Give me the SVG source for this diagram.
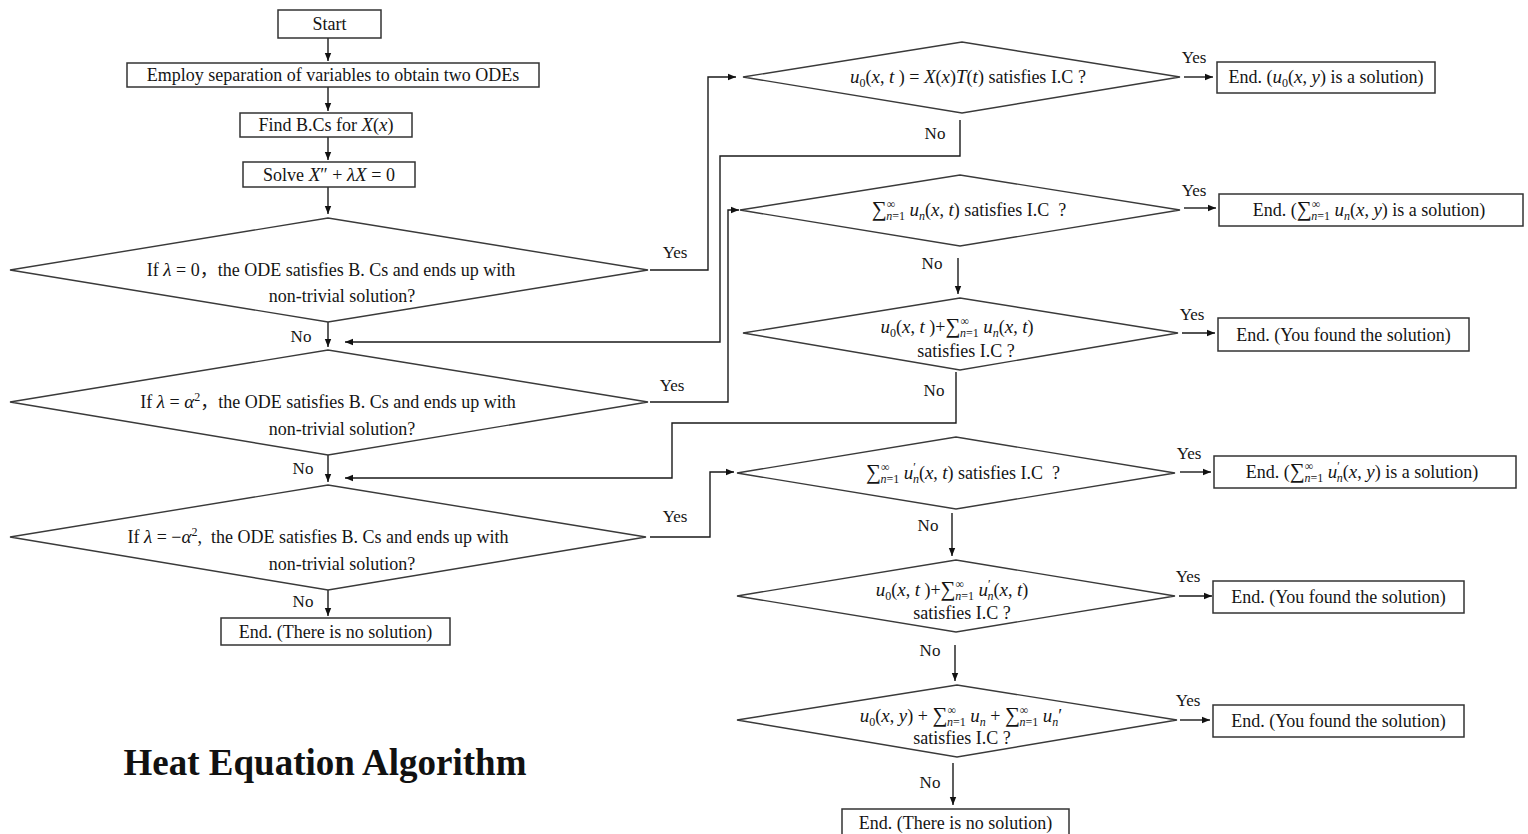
<svg xmlns="http://www.w3.org/2000/svg" width="1528" height="834" viewBox="0 0 1528 834">
<style>
.t{font-family:"Liberation Serif","Times New Roman","Noto Sans CJK SC",serif;font-size:18px;fill:#151515}
.i{font-style:italic;font-size:19px}
.s,.s .i,.s.i{font-size:12px}
.sm{font-size:21px}
.lbl{font-family:"Liberation Serif","Times New Roman",serif;font-size:17px;fill:#151515}
.box{fill:#fff;stroke:#333;stroke-width:1.5}
.dia{fill:#fff;stroke:#3a3a3a;stroke-width:1.4}
.con{fill:none;stroke:#1a1a1a;stroke-width:1.4;marker-end:url(#ah)}
.title{font-family:"Liberation Serif","Times New Roman",serif;font-size:37px;font-weight:bold;fill:#111}
</style>
<defs>
<marker id="ah" viewBox="0 0 10 10" refX="10" refY="5" markerWidth="9" markerHeight="8" markerUnits="userSpaceOnUse" orient="auto">
<path d="M0,1 L10,5 L0,9 z" fill="#111"/>
</marker>
</defs>
<rect width="1528" height="834" fill="#fff"/>

<g id="connectors">
<path class="con" d="M328,38 V61"/>
<path class="con" d="M328,87 V111"/>
<path class="con" d="M328,137 V160"/>
<path class="con" d="M328,187 V214"/>
<path class="con" d="M328,322 V347"/>
<path class="con" d="M328,455 V482"/>
<path class="con" d="M328,590 V616"/>
<path class="con" d="M650,270 H708 V77 H736"/>
<path class="con" d="M1184,77 H1213"/>
<path class="con" d="M960,120 V156 H720 V342 H345"/>
<path class="con" d="M650,402 H728 V210 H739"/>
<path class="con" d="M1184,208 H1216"/>
<path class="con" d="M958,258 V294"/>
<path class="con" d="M1182,333 H1215"/>
<path class="con" d="M956,372 V423 H672 V478 H345"/>
<path class="con" d="M650,537 H710 V472 H734"/>
<path class="con" d="M1180,472 H1211"/>
<path class="con" d="M952,513 V556"/>
<path class="con" d="M1179,596 H1212"/>
<path class="con" d="M955,645 V681"/>
<path class="con" d="M1180,720 H1210"/>
<path class="con" d="M953,763 V805"/>
<text class="lbl" x="675" y="258" text-anchor="middle">Yes</text>
<text class="lbl" x="672" y="391" text-anchor="middle">Yes</text>
<text class="lbl" x="675" y="522" text-anchor="middle">Yes</text>
<text class="lbl" x="301" y="342" text-anchor="middle">No</text>
<text class="lbl" x="303" y="474" text-anchor="middle">No</text>
<text class="lbl" x="303" y="607" text-anchor="middle">No</text>
<text class="lbl" x="1194" y="63" text-anchor="middle">Yes</text>
<text class="lbl" x="1194" y="196" text-anchor="middle">Yes</text>
<text class="lbl" x="1192" y="320" text-anchor="middle">Yes</text>
<text class="lbl" x="1189" y="459" text-anchor="middle">Yes</text>
<text class="lbl" x="1188" y="582" text-anchor="middle">Yes</text>
<text class="lbl" x="1188" y="706" text-anchor="middle">Yes</text>
<text class="lbl" x="935" y="139" text-anchor="middle">No</text>
<text class="lbl" x="932" y="269" text-anchor="middle">No</text>
<text class="lbl" x="934" y="396" text-anchor="middle">No</text>
<text class="lbl" x="928" y="531" text-anchor="middle">No</text>
<text class="lbl" x="930" y="656" text-anchor="middle">No</text>
<text class="lbl" x="930" y="788" text-anchor="middle">No</text>
</g>

<g id="start">
<rect class="box" x="278" y="10" width="103" height="28"/>
<text class="t" x="329.5" y="30" text-anchor="middle">Start</text>
</g>
<g id="separate">
<rect class="box" x="127" y="63" width="412" height="24"/>
<text class="t" x="333" y="81" text-anchor="middle">Employ separation of variables to obtain two ODEs</text>
</g>
<g id="findbc">
<rect class="box" x="240" y="113" width="172" height="24"/>
<text class="t" x="326" y="131" text-anchor="middle">Find B.Cs for <tspan class="i">X</tspan>(<tspan class="i">x</tspan>)</text>
</g>
<g id="solve">
<rect class="box" x="243" y="162" width="172" height="25"/>
<text class="t" x="329" y="181" text-anchor="middle">Solve <tspan class="i">X</tspan>″ + <tspan class="i">λX</tspan> = 0</text>
</g>

<g id="case-zero">
<polygon class="dia" points="10,270 328,218 648,270 328,322"/>
<text class="t" x="331" y="276" text-anchor="middle">If <tspan class="i">λ</tspan> = 0，the ODE satisfies B. Cs and ends up with</text>
<text class="t" x="342" y="302" text-anchor="middle">non-trivial solution?</text>
</g>
<g id="case-positive">
<polygon class="dia" points="10,402 328,350 648,402 328,455"/>
<text class="t" x="328" y="408" text-anchor="middle">If <tspan class="i">λ</tspan> = <tspan class="i">α</tspan><tspan class="s" dy="-7">2</tspan><tspan dy="7">，the ODE satisfies B. Cs and ends up with</tspan></text>
<text class="t" x="342" y="435" text-anchor="middle">non-trivial solution?</text>
</g>
<g id="case-negative">
<polygon class="dia" points="10,537 328,485 646,537 328,590"/>
<text class="t" x="318" y="543" text-anchor="middle">If <tspan class="i">λ</tspan> = −<tspan class="i">α</tspan><tspan class="s" dy="-7">2</tspan><tspan dy="7">,&#160; the ODE satisfies B. Cs and ends up with</tspan></text>
<text class="t" x="342" y="570" text-anchor="middle">non-trivial solution?</text>
</g>
<g id="end-left">
<rect class="box" x="221" y="618" width="229" height="27"/>
<text class="t" x="335.5" y="638" text-anchor="middle">End. (There is no solution)</text>
</g>

<g id="check-u0">
<polygon class="dia" points="743,77 962,42 1180,77 962,113"/>
<text class="t" x="968" y="83" text-anchor="middle"><tspan class="i">u</tspan><tspan class="s" dy="4">0</tspan><tspan dy="-4">(</tspan><tspan class="i">x</tspan>, <tspan class="i">t</tspan> ) = <tspan class="i">X</tspan>(<tspan class="i">x</tspan>)<tspan class="i">T</tspan>(<tspan class="i">t</tspan>) satisfies I.C ?</text>
</g>
<g id="end-u0">
<rect class="box" x="1217" y="62" width="218" height="31"/>
<text class="t" x="1326" y="83" text-anchor="middle">End. (<tspan class="i">u</tspan><tspan class="s" dy="4">0</tspan><tspan dy="-4">(</tspan><tspan class="i">x</tspan>, <tspan class="i">y</tspan>) is a solution)</text>
</g>

<g id="check-un">
<polygon class="dia" points="740,210 960,175 1180,210 960,246"/>
<text class="t" x="969" y="216" text-anchor="middle"><tspan class="sm">∑</tspan><tspan class="s" dy="-8">∞</tspan><tspan class="s" dx="-9" dy="12"><tspan class="i">n</tspan>=1</tspan><tspan dy="-4"> </tspan><tspan class="i">u</tspan><tspan class="s i" dy="4">n</tspan><tspan dy="-4">(</tspan><tspan class="i">x</tspan>, <tspan class="i">t</tspan>) satisfies I.C&#160; ?</text>
</g>
<g id="end-un">
<rect class="box" x="1219" y="194" width="304" height="32"/>
<text class="t" x="1369" y="216" text-anchor="middle">End. (<tspan class="sm">∑</tspan><tspan class="s" dy="-8">∞</tspan><tspan class="s" dx="-9" dy="12"><tspan class="i">n</tspan>=1</tspan><tspan dy="-4"> </tspan><tspan class="i">u</tspan><tspan class="s i" dy="4">n</tspan><tspan dy="-4">(</tspan><tspan class="i">x</tspan>, <tspan class="i">y</tspan>) is a solution)</text>
</g>

<g id="check-u0-un">
<polygon class="dia" points="743,333 960,298 1178,333 960,370"/>
<text class="t" x="957" y="333" text-anchor="middle"><tspan class="i">u</tspan><tspan class="s" dy="4">0</tspan><tspan dy="-4">(</tspan><tspan class="i">x</tspan>, <tspan class="i">t</tspan> )+<tspan class="sm">∑</tspan><tspan class="s" dy="-8">∞</tspan><tspan class="s" dx="-9" dy="12"><tspan class="i">n</tspan>=1</tspan><tspan dy="-4"> </tspan><tspan class="i">u</tspan><tspan class="s i" dy="4">n</tspan><tspan dy="-4">(</tspan><tspan class="i">x</tspan>, <tspan class="i">t</tspan>)</text>
<text class="t" x="966" y="357" text-anchor="middle">satisfies I.C ?</text>
</g>
<g id="end-found-1">
<rect class="box" x="1218" y="318" width="251" height="33"/>
<text class="t" x="1343.5" y="341" text-anchor="middle">End. (You found the solution)</text>
</g>

<g id="check-unp">
<polygon class="dia" points="737,473 956,437 1175,473 956,509"/>
<text class="t" x="963" y="479" text-anchor="middle"><tspan class="sm">∑</tspan><tspan class="s" dy="-8">∞</tspan><tspan class="s" dx="-9" dy="12"><tspan class="i">n</tspan>=1</tspan><tspan dy="-4"> </tspan><tspan class="i">u</tspan><tspan class="s" dy="-8">′</tspan><tspan class="s i" dx="-3" dy="12">n</tspan><tspan dy="-4">(</tspan><tspan class="i">x</tspan>, <tspan class="i">t</tspan>) satisfies I.C&#160; ?</text>
</g>
<g id="end-unp">
<rect class="box" x="1214" y="456" width="302" height="32"/>
<text class="t" x="1362" y="478" text-anchor="middle">End. (<tspan class="sm">∑</tspan><tspan class="s" dy="-8">∞</tspan><tspan class="s" dx="-9" dy="12"><tspan class="i">n</tspan>=1</tspan><tspan dy="-4"> </tspan><tspan class="i">u</tspan><tspan class="s" dy="-8">′</tspan><tspan class="s i" dx="-3" dy="12">n</tspan><tspan dy="-4">(</tspan><tspan class="i">x</tspan>, <tspan class="i">y</tspan>) is a solution)</text>
</g>

<g id="check-u0-unp">
<polygon class="dia" points="737,596 956,560 1175,596 956,632"/>
<text class="t" x="952" y="596" text-anchor="middle"><tspan class="i">u</tspan><tspan class="s" dy="4">0</tspan><tspan dy="-4">(</tspan><tspan class="i">x</tspan>, <tspan class="i">t</tspan> )+<tspan class="sm">∑</tspan><tspan class="s" dy="-8">∞</tspan><tspan class="s" dx="-9" dy="12"><tspan class="i">n</tspan>=1</tspan><tspan dy="-4"> </tspan><tspan class="i">u</tspan><tspan class="s" dy="-8">′</tspan><tspan class="s i" dx="-3" dy="12">n</tspan><tspan dy="-4">(</tspan><tspan class="i">x</tspan>, <tspan class="i">t</tspan>)</text>
<text class="t" x="962" y="619" text-anchor="middle">satisfies I.C ?</text>
</g>
<g id="end-found-2">
<rect class="box" x="1213" y="581" width="251" height="32"/>
<text class="t" x="1338.5" y="603" text-anchor="middle">End. (You found the solution)</text>
</g>

<g id="check-all">
<polygon class="dia" points="737,720 957,685 1177,720 957,757"/>
<text class="t" x="961" y="722" text-anchor="middle"><tspan class="i">u</tspan><tspan class="s" dy="4">0</tspan><tspan dy="-4">(</tspan><tspan class="i">x</tspan>, <tspan class="i">y</tspan>) + <tspan class="sm">∑</tspan><tspan class="s" dy="-8">∞</tspan><tspan class="s" dx="-9" dy="12"><tspan class="i">n</tspan>=1</tspan><tspan dy="-4"> </tspan><tspan class="i">u</tspan><tspan class="s i" dy="4">n</tspan><tspan dy="-4"> + </tspan><tspan class="sm">∑</tspan><tspan class="s" dy="-8">∞</tspan><tspan class="s" dx="-9" dy="12"><tspan class="i">n</tspan>=1</tspan><tspan dy="-4"> </tspan><tspan class="i">u</tspan><tspan class="s i" dy="4">n</tspan><tspan dy="-4">′</tspan></text>
<text class="t" x="962" y="744" text-anchor="middle">satisfies I.C ?</text>
</g>
<g id="end-found-3">
<rect class="box" x="1213" y="705" width="251" height="32"/>
<text class="t" x="1338.5" y="727" text-anchor="middle">End. (You found the solution)</text>
</g>

<g id="end-right">
<rect class="box" x="842" y="809" width="227" height="28"/>
<text class="t" x="955.5" y="829" text-anchor="middle">End. (There is no solution)</text>
</g>

<text class="title" x="325" y="775" text-anchor="middle">Heat Equation Algorithm</text>
</svg>
